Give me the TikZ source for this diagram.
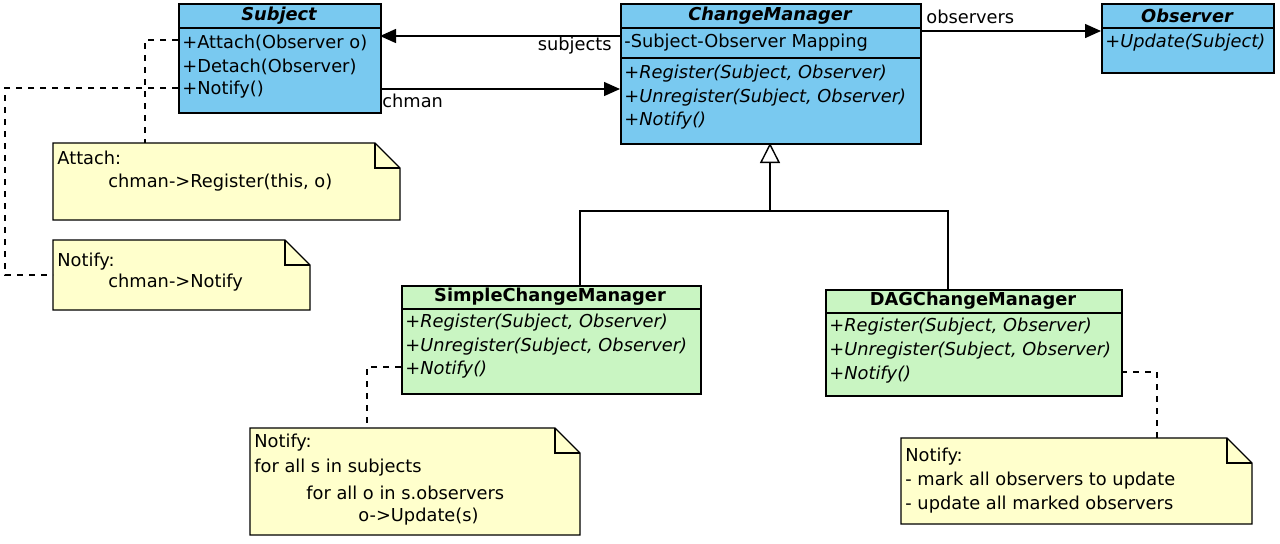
\documentclass[tikz,border=0pt]{standalone}
\usepackage{fontspec}
\setmainfont{DejaVu Sans}
\usetikzlibrary{arrows.meta}
\definecolor{classblue}{HTML}{79C9F0}
\definecolor{classgreen}{HTML}{C9F5C2}
\definecolor{noteyellow}{HTML}{FFFFCC}
\tikzset{
  box/.style={draw, line width=0.8pt, anchor=north west, inner sep=0pt},
  txt/.style={anchor=west, inner sep=0pt, font=\fontsize{8.9}{10}\selectfont},
  ttl/.style={inner sep=0pt, font=\fontsize{8.9}{10}\selectfont\bfseries},
  assoc/.style={line width=0.7pt, -{Triangle[length=8pt,width=7pt]}},
  link/.style={dashed, line width=0.6pt},
}
\begin{document}
\begin{tikzpicture}[x=0.5pt,y=-0.5pt]
\useasboundingbox (0,0) rectangle (1280,543);

% classes
\node[box, fill=classblue, minimum width=101pt, minimum height=54.5pt] (subj) at (178,3) {};
\draw[line width=0.8pt] (178,28) -- (380,28);
\node[ttl] (subjT) at (279,16) {\itshape Subject};
\node[txt] (s1) at (182,43) {+Attach(Observer o)};
\node[txt] (s2) at (182,67) {+Detach(Observer)};
\node[txt] (s3) at (182,90) {+Notify()};

\node[box, fill=classblue, minimum width=150pt, minimum height=70pt] (chmgr) at (620,3) {};
\draw[line width=0.8pt] (620,28) -- (920,28);
\draw[line width=0.8pt] (620,58) -- (920,58);
\node[ttl] (cmT) at (770,16) {\itshape ChangeManager};
\node[txt] (c0) at (624,43) {-Subject-Observer Mapping};
\node[txt] (c1) at (624,74) {\itshape +Register(Subject, Observer)};
\node[txt] (c2) at (624,98) {\itshape +Unregister(Subject, Observer)};
\node[txt] (c3) at (624,121) {\itshape +Notify()};

\node[box, fill=classblue, minimum width=86pt, minimum height=34.5pt] (obs) at (1101,3) {};
\draw[line width=0.8pt] (1101,28) -- (1273,28);
\node[ttl] (obsT) at (1187,16) {\itshape Observer};
\node[txt] (o1) at (1105,43) {\itshape +Update(Subject)};

\node[box, fill=classgreen, minimum width=149.5pt, minimum height=54pt] (simple) at (401,285) {};
\draw[line width=0.8pt] (401,309) -- (700,309);
\node[ttl] (simT) at (550,297) {SimpleChangeManager};
\node[txt] (m1) at (405,323) {\itshape +Register(Subject, Observer)};
\node[txt] (m2) at (405,347) {\itshape +Unregister(Subject, Observer)};
\node[txt] (m3) at (405,370) {\itshape +Notify()};

\node[box, fill=classgreen, minimum width=148pt, minimum height=53pt] (dag) at (825,289) {};
\draw[line width=0.8pt] (825,313) -- (1121,313);
\node[ttl] (dagT) at (973,301) {DAGChangeManager};
\node[txt] (d1) at (829,327) {\itshape +Register(Subject, Observer)};
\node[txt] (d2) at (829,351) {\itshape +Unregister(Subject, Observer)};
\node[txt] (d3) at (829,375) {\itshape +Notify()};

% notes
\draw[fill=noteyellow, line width=0.7pt] (53,143) -- (375,143) -- (400,168) -- (400,220) -- (53,220) -- cycle;
\draw[line width=0.7pt] (375,143) -- (375,168) -- (400,168);
\node[txt] (n1) at (57,158) {Attach:};
\node[txt] (n1b) at (108,183) {chman->Register(this, o)};

\draw[fill=noteyellow, line width=0.7pt] (53,240) -- (285,240) -- (310,265) -- (310,310) -- (53,310) -- cycle;
\draw[line width=0.7pt] (285,240) -- (285,265) -- (310,265);
\node[txt] (n2) at (57,262) {Notify:};
\node[txt] (n2b) at (108,283) {chman->Notify};

\draw[fill=noteyellow, line width=0.7pt] (250,428) -- (555,428) -- (580,453) -- (580,535) -- (250,535) -- cycle;
\draw[line width=0.7pt] (555,428) -- (555,453) -- (580,453);
\node[txt] (n3) at (254,443) {Notify:};
\node[txt] (n3b) at (254,468) {for all s in subjects};
\node[txt] (n3c) at (306,493) {for all o in s.observers};
\node[txt] (n3d) at (358,517) {o->Update(s)};

\draw[fill=noteyellow, line width=0.7pt] (901,438) -- (1227,438) -- (1252,463) -- (1252,524) -- (901,524) -- cycle;
\draw[line width=0.7pt] (1227,438) -- (1227,463) -- (1252,463);
\node[txt] (n4) at (905,457) {Notify:};
\node[txt] (n4b) at (905,481) {- mark all observers to update};
\node[txt] (n4c) at (905,505) {- update all marked observers};

% associations
\draw[assoc] (620,36) -- (380,36);
\node[txt, anchor=east] (lsub) at (612,46) {subjects};
\draw[assoc] (380,89) -- (620,89);
\node[txt] (lch) at (382,101) {chman};
\draw[assoc] (920,31) -- (1101,31);
\node[txt] (lobs) at (926,17) {observers};

% generalization
\draw[line width=0.7pt] (580,285) -- (580,211) -- (948,211) -- (948,289);
\draw[line width=0.7pt, -{Triangle[open,length=10pt,width=10pt]}] (770,211) -- (770,143);

% note links
\draw[link] (178,40) -- (145,40) -- (145,143);
\draw[link] (178,88) -- (5,88) -- (5,275) -- (53,275);
\draw[link] (401,367) -- (367,367) -- (367,428);
\draw[link] (1121,372) -- (1157,372) -- (1157,438);
\end{tikzpicture}
\end{document}
